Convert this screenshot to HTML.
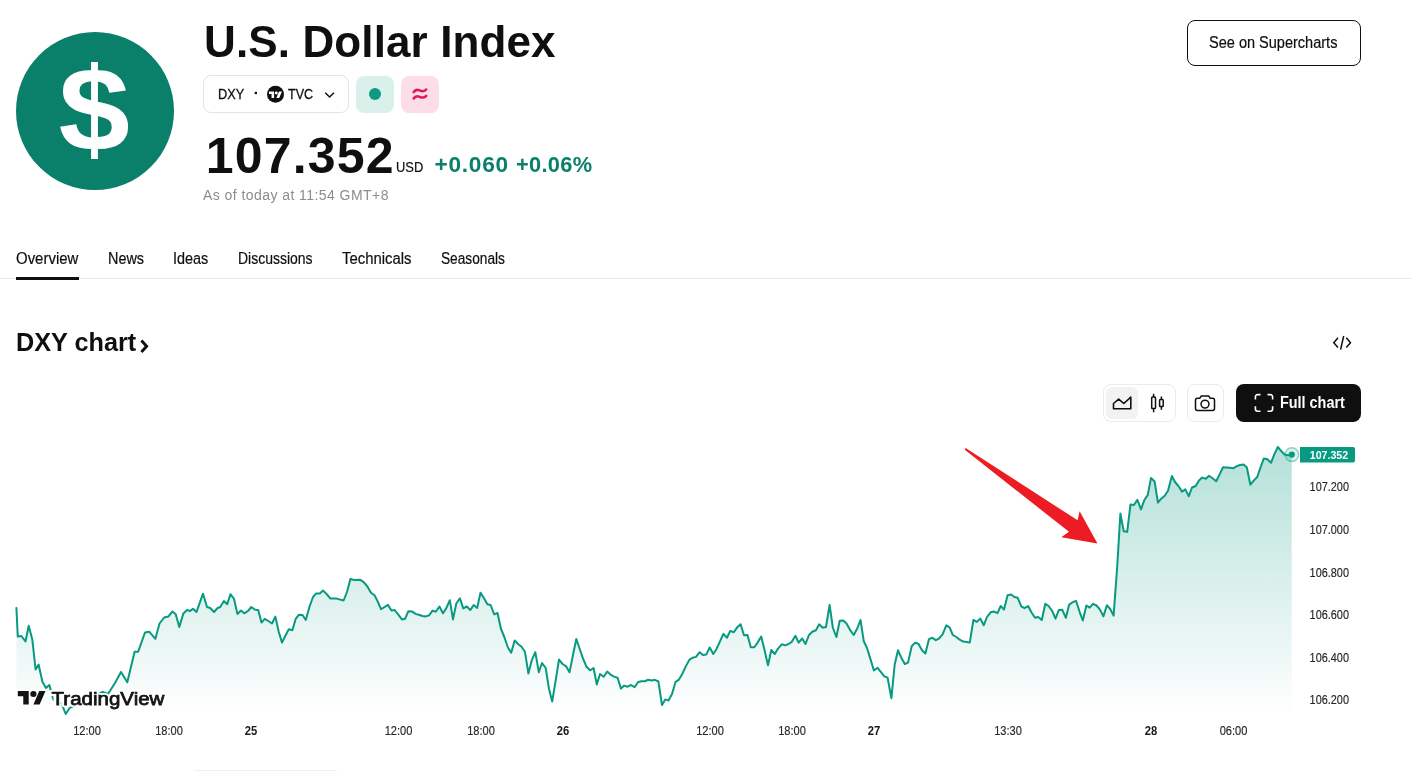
<!DOCTYPE html>
<html lang="en">
<head>
<meta charset="utf-8">
<title>U.S. Dollar Index</title>
<style>
html,body{margin:0;padding:0;background:#fff;}
body{width:1412px;height:771px;position:relative;overflow:hidden;font-family:"Liberation Sans",sans-serif;color:#0f0f0f;}
.abs{position:absolute;white-space:nowrap;line-height:1;}
#logo{left:15.5px;top:31.5px;width:158px;height:158px;border-radius:50%;background:#0a806b;}
#title{left:204px;top:19.8px;font-size:44px;font-weight:700;letter-spacing:0.12px;}
#chip{left:203px;top:75px;width:144px;height:36px;border:1px solid #e4e4e4;border-radius:8px;}
#chip span{position:absolute;font-size:15px;line-height:1;top:9.6px;-webkit-text-stroke:0.3px #0f0f0f;}
#gsq{left:356px;top:76px;width:38px;height:37px;border-radius:8px;background:#daf0eb;}
#gsq i{position:absolute;left:13px;top:12.3px;width:12px;height:12px;border-radius:50%;background:#0f9981;}
#psq{left:401px;top:76px;width:38px;height:37px;border-radius:8px;background:#fddde8;}
#price{left:205.8px;top:130.8px;font-size:50px;font-weight:700;letter-spacing:1.15px;}
#usd{left:395.5px;top:159.7px;-webkit-text-stroke:0.2px #0f0f0f;font-size:14px;transform-origin:0 50%;transform:scaleX(0.92);}
#chg{left:434.5px;top:153.3px;font-size:22.7px;font-weight:700;color:#0a806b;letter-spacing:0.73px;}
#chg2{left:516.3px;top:153.3px;font-size:22.7px;font-weight:700;color:#0a806b;letter-spacing:0.33px;transform-origin:0 50%;transform:scaleX(0.96);}
#asof{left:203px;top:188px;font-size:14px;color:#8c8c8c;letter-spacing:0.44px;}
#sos{left:1187px;top:20.4px;width:172px;height:44px;border:1px solid #0f0f0f;border-radius:8px;}
#sostxt{left:1209.3px;top:34.7px;-webkit-text-stroke:0.2px #0f0f0f;font-size:16px;transform-origin:0 50%;transform:scaleX(0.908);}
.tab{top:251.3px;font-size:16px;transform-origin:0 50%;-webkit-text-stroke:0.2px #0f0f0f;}
#tabline{left:0;top:278px;width:1412px;height:1px;background:#ebebeb;}
#tabsel{left:16px;top:277px;width:63px;height:3px;background:#0f0f0f;}
#ctitle{left:15.8px;top:329.1px;font-size:26.5px;font-weight:700;transform-origin:0 50%;transform:scaleX(0.953);}
#grp{left:1103px;top:384px;width:71px;height:36px;border:1px solid #ebebeb;border-radius:8px;}
#grpsel{left:1106px;top:387px;width:32px;height:32px;border-radius:6px;background:#f2f2f2;}
#cam{left:1186.6px;top:384px;width:35.3px;height:36px;border:1px solid #ebebeb;border-radius:8px;}
#full{left:1236px;top:384px;width:125px;height:38px;border-radius:8px;background:#0f0f0f;}
#fulltxt{left:1280px;top:394.8px;font-size:16px;font-weight:700;color:#fff;transform-origin:0 50%;transform:scaleX(0.9);}
svg{position:absolute;left:0;top:0;}
.ax{font-family:"Liberation Sans",sans-serif;font-size:12.3px;fill:#262626;stroke:#262626;stroke-width:0.15px;}
.ax.b{font-weight:700;fill:#1a1a1a;stroke:none;}
</style>
</head>
<body>
<div id="logo" class="abs"></div>
<div id="title" class="abs">U.S. Dollar Index</div>
<div id="chip" class="abs"><span style="left:13.5px;transform-origin:0 50%;transform:scaleX(0.85)">DXY</span><span style="left:83.8px;transform-origin:0 50%;transform:scaleX(0.835)">TVC</span></div>
<div id="gsq" class="abs"><i></i></div>
<div id="psq" class="abs"></div>
<div id="price" class="abs">107.352</div>
<div id="usd" class="abs">USD</div>
<div id="chg" class="abs">+0.060</div><div id="chg2" class="abs">+0.06%</div>
<div id="asof" class="abs">As of today at 11:54 GMT+8</div>
<div id="sos" class="abs"></div><div id="sostxt" class="abs">See on Supercharts</div>

<div class="abs tab" style="left:15.6px;transform:scaleX(0.935)">Overview</div>
<div class="abs tab" style="left:107.6px;transform:scaleX(0.9)">News</div>
<div class="abs tab" style="left:173px;transform:scaleX(0.9)">Ideas</div>
<div class="abs tab" style="left:237.6px;transform:scaleX(0.873)">Discussions</div>
<div class="abs tab" style="left:342px;transform:scaleX(0.93)">Technicals</div>
<div class="abs tab" style="left:440.5px;transform:scaleX(0.855)">Seasonals</div>
<div id="tabline" class="abs"></div>
<div id="tabsel" class="abs"></div>

<div id="ctitle" class="abs">DXY chart</div>
<div id="grp" class="abs"></div>
<div id="grpsel" class="abs"></div>
<div id="cam" class="abs"></div>
<div id="full" class="abs"></div>
<div id="fulltxt" class="abs">Full chart</div>
<div class="abs" style="left:192px;top:769.6px;width:147px;height:8px;border-radius:6px;background:#f0f0f0"></div>

<svg width="1412" height="771" viewBox="0 0 1412 771">
<defs>
<linearGradient id="ag" gradientUnits="userSpaceOnUse" x1="0" y1="446" x2="0" y2="716">
<stop offset="0" stop-color="#089981" stop-opacity="0.305"/>
<stop offset="1" stop-color="#089981" stop-opacity="0"/>
</linearGradient>
</defs>
<!-- dollar sign -->
<text x="94.2" y="150.2" text-anchor="middle" font-family="Liberation Sans, sans-serif" font-weight="700" font-size="118.8" fill="#fff" transform="translate(94.2 0) scale(1.08 1) translate(-94.2 0)">$</text>
<!-- TV round logo in chip -->
<rect x="254.7" y="91.8" width="2.3" height="2.3" fill="#0f0f0f"/>
<g transform="translate(275.5 94.35)">
<circle r="8.5" fill="#0f0f0f"/>
<g transform="translate(-6.5 -4.35) scale(0.365)" fill="#fff"><path d="M14 22H7V11H0V4h14v18zM28 22h-8l7.5-18h8L28 22z"/><circle cx="20" cy="8" r="4"/></g>
</g>
<!-- chevron -->
<path d="M325.2,92.8 L329.6,97 L334,92.8" fill="none" stroke="#0f0f0f" stroke-width="1.5"/>
<!-- approx sign -->
<g fill="none" stroke="#d91a55" stroke-width="2.5" stroke-linecap="round">
<path d="M413.7,92.1 C415.2,89.6 417.3,89.4 419.6,90.4 C422.4,91.6 424.6,91.5 426.2,89.5"/>
<path d="M413.7,98.5 C415.2,96 417.3,95.8 419.6,96.8 C422.4,98 424.6,97.9 426.2,95.9"/>
</g>
<!-- chart title chevron -->
<path d="M141.4,340.6 L146.6,346.3 L141.4,352" fill="none" stroke="#0f0f0f" stroke-width="2.9"/>
<!-- embed icon -->
<g fill="none" stroke="#0f0f0f" stroke-width="1.5">
<path d="M1338,337.8 L1333.8,342.7 L1338,347.6"/>
<path d="M1346.3,337.8 L1350.5,342.7 L1346.3,347.6"/>
<path d="M1343.7,336 L1340.6,349.7"/>
</g>
<!-- area icon -->
<path d="M1113.5,408.7 V403.5 L1118.7,399.1 L1123.8,403.5 L1130.8,397.2 V408.7 Z" fill="none" stroke="#0f0f0f" stroke-width="1.6" stroke-linejoin="round"/>
<!-- candle icon -->
<g fill="none" stroke="#0f0f0f" stroke-width="1.5">
<rect x="1151.7" y="397" width="3.8" height="11.6" rx="0.8"/>
<path d="M1153.6,393.8 V397 M1153.6,408.6 V412.2"/>
<rect x="1159.6" y="399.5" width="3.6" height="7" rx="0.8"/>
<path d="M1161.4,396.4 V399.5 M1161.4,406.5 V409.7"/>
</g>
<!-- camera icon -->
<g fill="none" stroke="#0f0f0f" stroke-width="1.5">
<path d="M1197.5,398.3 H1199.8 L1201.3,395.9 H1208.7 L1210.2,398.3 H1212.5 A2,2 0 0 1 1214.5,400.3 V408.5 A2,2 0 0 1 1212.5,410.5 H1197.5 A2,2 0 0 1 1195.5,408.5 V400.3 A2,2 0 0 1 1197.5,398.3 Z"/>
<circle cx="1205" cy="404.1" r="3.95"/>
</g>
<!-- fullscreen icon -->
<g fill="none" stroke="#fff" stroke-width="1.6">
<path d="M1255.4,399.5 V396.8 A2.2,2.2 0 0 1 1257.6,394.6 H1260.5"/>
<path d="M1267.5,394.6 H1270.4 A2.2,2.2 0 0 1 1272.6,396.8 V399.5"/>
<path d="M1272.6,406.3 V409 A2.2,2.2 0 0 1 1270.4,411.2 H1267.5"/>
<path d="M1260.5,411.2 H1257.6 A2.2,2.2 0 0 1 1255.4,409 V406.3"/>
</g>

<!-- chart -->
<path d="M16.4,607.9 L17.8,636.6 L21.3,636.0 L25.5,641.5 L28.7,625.7 L32.3,639.4 L35.6,669.5 L38.6,664.5 L42.4,681.8 L46.0,688.0 L49.3,685.0 L53.4,699.6 L61.6,703.7 L65.7,714.0 L69.8,707.8 L75.3,705.0 L82.0,703.7 L90.3,698.2 L95.8,695.5 L102.6,692.0 L108.0,694.0 L115.0,683.0 L121.0,672.0 L127.3,682.3 L134.6,651.7 L138.2,651.7 L145.0,632.5 L149.2,631.7 L155.4,638.8 L159.5,623.5 L164.2,617.5 L168.3,616.6 L172.4,611.5 L175.7,614.2 L179.3,627.0 L183.4,613.4 L187.0,610.0 L190.2,611.0 L193.0,608.7 L196.5,612.0 L203.0,593.7 L207.0,607.0 L210.2,608.0 L214.0,612.0 L217.6,608.0 L220.3,607.0 L223.9,601.0 L227.2,604.3 L230.4,594.2 L234.0,598.8 L237.4,613.9 L241.0,610.6 L244.2,613.3 L247.8,611.2 L251.3,607.0 L255.2,609.8 L258.2,610.0 L261.5,622.6 L264.8,618.8 L268.3,621.0 L272.0,623.5 L275.4,616.6 L278.7,631.7 L282.0,642.6 L285.6,635.2 L288.8,629.2 L292.4,630.3 L295.7,618.8 L299.0,614.7 L302.5,615.0 L305.8,620.0 L309.4,607.0 L313.0,597.0 L316.2,593.4 L319.8,593.4 L323.0,590.6 L326.6,594.0 L330.4,598.6 L336.7,598.6 L343.6,600.5 L347.0,592.0 L350.4,578.9 L354.0,580.0 L360.0,579.7 L364.0,582.4 L367.4,586.5 L371.0,592.8 L374.5,595.3 L377.8,601.6 L381.0,609.2 L384.6,607.0 L388.0,604.9 L391.5,610.6 L394.7,610.0 L398.3,614.7 L401.9,619.4 L405.0,618.8 L408.4,611.2 L412.0,611.4 L415.5,613.9 L418.8,614.7 L422.4,616.0 L425.7,616.4 L429.2,615.3 L432.5,610.6 L435.8,611.7 L439.4,606.5 L443.0,613.3 L446.2,608.4 L449.8,600.2 L453.0,619.4 L456.3,603.5 L459.9,598.3 L463.3,608.4 L466.8,606.5 L470.4,610.0 L473.7,605.0 L477.2,607.9 L480.5,592.8 L484.0,598.3 L487.4,604.3 L490.6,605.0 L494.2,614.4 L497.5,613.0 L501.0,629.0 L504.3,637.0 L507.9,647.5 L511.2,652.7 L514.7,640.4 L518.3,644.3 L521.6,646.7 L524.9,651.7 L528.4,673.5 L531.7,660.4 L535.3,652.2 L538.8,672.2 L542.0,663.0 L545.7,668.0 L549.0,689.0 L552.2,701.5 L555.8,679.6 L559.0,659.6 L562.6,664.0 L566.2,666.4 L569.5,672.2 L573.0,655.0 L576.3,639.0 L579.9,649.5 L583.2,659.0 L586.4,666.7 L590.0,670.3 L593.6,668.0 L596.8,684.5 L600.0,674.0 L603.7,676.8 L607.2,671.6 L610.5,674.6 L614.0,676.6 L617.6,677.7 L621.0,688.6 L624.2,685.6 L627.5,686.7 L631.0,685.0 L634.6,687.2 L637.9,682.3 L641.2,681.2 L644.7,681.2 L648.3,679.8 L651.6,680.4 L654.9,679.8 L658.4,681.5 L662.0,705.0 L665.3,699.5 L668.5,700.4 L672.0,694.0 L675.6,681.8 L679.0,679.6 L682.2,674.0 L685.8,666.4 L689.3,659.9 L692.7,657.7 L696.0,656.9 L699.6,652.2 L703.0,655.0 L706.4,654.4 L709.7,647.5 L713.3,654.0 L716.5,649.0 L720.0,641.3 L723.4,633.9 L727.0,637.7 L730.2,630.9 L733.8,632.2 L737.0,627.6 L740.6,624.3 L744.0,635.2 L747.5,635.0 L750.8,647.3 L754.3,647.3 L757.6,642.6 L761.2,636.6 L764.4,649.5 L768.0,665.3 L771.3,650.0 L774.8,654.0 L778.0,648.6 L781.7,644.3 L785.2,645.4 L788.5,644.0 L791.8,641.8 L795.4,635.8 L798.6,642.6 L802.2,638.5 L805.5,644.0 L809.0,635.0 L812.3,631.7 L815.9,630.3 L819.2,624.3 L822.7,627.8 L826.0,627.0 L829.6,605.0 L832.9,628.0 L836.4,637.0 L839.7,620.7 L843.3,620.5 L846.5,623.5 L850.0,629.8 L853.7,635.0 L857.0,629.0 L860.5,620.0 L863.8,641.3 L867.0,648.0 L870.6,659.6 L873.9,670.5 L877.5,667.8 L881.0,672.2 L884.3,676.3 L887.6,677.7 L891.4,698.2 L894.7,664.5 L898.0,650.3 L901.3,657.7 L904.8,664.0 L908.0,662.6 L911.7,646.2 L915.2,642.6 L918.5,644.0 L922.0,650.3 L925.4,653.6 L929.0,639.1 L932.3,637.8 L935.9,640.2 L939.2,638.3 L942.7,634.2 L946.3,625.4 L949.6,627.4 L952.8,635.0 L956.4,637.0 L959.7,639.7 L963.2,641.6 L966.5,641.9 L969.8,642.4 L973.4,620.0 L976.9,621.9 L980.2,618.6 L983.8,625.2 L987.0,617.0 L990.6,612.3 L993.9,611.5 L997.5,613.1 L1000.7,606.0 L1004.0,609.6 L1007.6,595.3 L1011.1,594.5 L1014.4,597.0 L1017.7,597.8 L1021.3,606.3 L1024.5,608.2 L1028.1,606.0 L1031.4,612.3 L1035.0,617.8 L1038.2,617.0 L1041.8,620.0 L1045.3,603.8 L1048.6,606.0 L1052.2,611.0 L1055.5,618.6 L1058.8,610.1 L1062.3,609.8 L1065.9,617.8 L1069.2,604.6 L1072.7,602.2 L1076.0,600.8 L1079.6,611.8 L1082.8,620.5 L1086.4,605.5 L1089.7,607.7 L1093.0,603.8 L1096.5,605.5 L1100.0,609.6 L1103.4,616.4 L1106.9,605.2 L1110.2,609.0 L1113.6,615.6 L1117.1,568.2 L1120.4,513.5 L1123.7,531.3 L1127.2,531.8 L1130.5,504.4 L1134.0,505.0 L1137.4,499.8 L1141.0,509.4 L1144.2,500.3 L1147.8,494.9 L1151.0,477.9 L1154.6,481.5 L1157.9,502.5 L1161.5,498.4 L1164.7,495.7 L1168.0,490.8 L1171.9,476.0 L1175.0,482.0 L1178.4,486.0 L1182.0,491.6 L1185.3,489.4 L1188.8,496.2 L1192.0,487.5 L1195.7,486.0 L1199.0,480.6 L1202.2,477.6 L1205.8,478.7 L1209.0,475.7 L1212.6,478.2 L1216.2,481.2 L1219.5,474.6 L1223.0,467.2 L1226.3,467.5 L1229.9,467.8 L1233.2,468.3 L1236.4,466.4 L1240.0,465.0 L1243.6,464.5 L1246.8,467.2 L1250.4,484.7 L1253.7,480.6 L1257.2,477.0 L1260.5,467.5 L1263.8,458.5 L1267.4,459.3 L1271.0,462.8 L1274.2,454.6 L1277.8,447.0 L1281.0,450.8 L1284.6,454.6 L1287.9,455.2 L1291.7,454.6 L1291.7,715 L16.4,715 Z" fill="url(#ag)"/>
<path d="M16.4,607.9 L17.8,636.6 L21.3,636.0 L25.5,641.5 L28.7,625.7 L32.3,639.4 L35.6,669.5 L38.6,664.5 L42.4,681.8 L46.0,688.0 L49.3,685.0 L53.4,699.6 L61.6,703.7 L65.7,714.0 L69.8,707.8 L75.3,705.0 L82.0,703.7 L90.3,698.2 L95.8,695.5 L102.6,692.0 L108.0,694.0 L115.0,683.0 L121.0,672.0 L127.3,682.3 L134.6,651.7 L138.2,651.7 L145.0,632.5 L149.2,631.7 L155.4,638.8 L159.5,623.5 L164.2,617.5 L168.3,616.6 L172.4,611.5 L175.7,614.2 L179.3,627.0 L183.4,613.4 L187.0,610.0 L190.2,611.0 L193.0,608.7 L196.5,612.0 L203.0,593.7 L207.0,607.0 L210.2,608.0 L214.0,612.0 L217.6,608.0 L220.3,607.0 L223.9,601.0 L227.2,604.3 L230.4,594.2 L234.0,598.8 L237.4,613.9 L241.0,610.6 L244.2,613.3 L247.8,611.2 L251.3,607.0 L255.2,609.8 L258.2,610.0 L261.5,622.6 L264.8,618.8 L268.3,621.0 L272.0,623.5 L275.4,616.6 L278.7,631.7 L282.0,642.6 L285.6,635.2 L288.8,629.2 L292.4,630.3 L295.7,618.8 L299.0,614.7 L302.5,615.0 L305.8,620.0 L309.4,607.0 L313.0,597.0 L316.2,593.4 L319.8,593.4 L323.0,590.6 L326.6,594.0 L330.4,598.6 L336.7,598.6 L343.6,600.5 L347.0,592.0 L350.4,578.9 L354.0,580.0 L360.0,579.7 L364.0,582.4 L367.4,586.5 L371.0,592.8 L374.5,595.3 L377.8,601.6 L381.0,609.2 L384.6,607.0 L388.0,604.9 L391.5,610.6 L394.7,610.0 L398.3,614.7 L401.9,619.4 L405.0,618.8 L408.4,611.2 L412.0,611.4 L415.5,613.9 L418.8,614.7 L422.4,616.0 L425.7,616.4 L429.2,615.3 L432.5,610.6 L435.8,611.7 L439.4,606.5 L443.0,613.3 L446.2,608.4 L449.8,600.2 L453.0,619.4 L456.3,603.5 L459.9,598.3 L463.3,608.4 L466.8,606.5 L470.4,610.0 L473.7,605.0 L477.2,607.9 L480.5,592.8 L484.0,598.3 L487.4,604.3 L490.6,605.0 L494.2,614.4 L497.5,613.0 L501.0,629.0 L504.3,637.0 L507.9,647.5 L511.2,652.7 L514.7,640.4 L518.3,644.3 L521.6,646.7 L524.9,651.7 L528.4,673.5 L531.7,660.4 L535.3,652.2 L538.8,672.2 L542.0,663.0 L545.7,668.0 L549.0,689.0 L552.2,701.5 L555.8,679.6 L559.0,659.6 L562.6,664.0 L566.2,666.4 L569.5,672.2 L573.0,655.0 L576.3,639.0 L579.9,649.5 L583.2,659.0 L586.4,666.7 L590.0,670.3 L593.6,668.0 L596.8,684.5 L600.0,674.0 L603.7,676.8 L607.2,671.6 L610.5,674.6 L614.0,676.6 L617.6,677.7 L621.0,688.6 L624.2,685.6 L627.5,686.7 L631.0,685.0 L634.6,687.2 L637.9,682.3 L641.2,681.2 L644.7,681.2 L648.3,679.8 L651.6,680.4 L654.9,679.8 L658.4,681.5 L662.0,705.0 L665.3,699.5 L668.5,700.4 L672.0,694.0 L675.6,681.8 L679.0,679.6 L682.2,674.0 L685.8,666.4 L689.3,659.9 L692.7,657.7 L696.0,656.9 L699.6,652.2 L703.0,655.0 L706.4,654.4 L709.7,647.5 L713.3,654.0 L716.5,649.0 L720.0,641.3 L723.4,633.9 L727.0,637.7 L730.2,630.9 L733.8,632.2 L737.0,627.6 L740.6,624.3 L744.0,635.2 L747.5,635.0 L750.8,647.3 L754.3,647.3 L757.6,642.6 L761.2,636.6 L764.4,649.5 L768.0,665.3 L771.3,650.0 L774.8,654.0 L778.0,648.6 L781.7,644.3 L785.2,645.4 L788.5,644.0 L791.8,641.8 L795.4,635.8 L798.6,642.6 L802.2,638.5 L805.5,644.0 L809.0,635.0 L812.3,631.7 L815.9,630.3 L819.2,624.3 L822.7,627.8 L826.0,627.0 L829.6,605.0 L832.9,628.0 L836.4,637.0 L839.7,620.7 L843.3,620.5 L846.5,623.5 L850.0,629.8 L853.7,635.0 L857.0,629.0 L860.5,620.0 L863.8,641.3 L867.0,648.0 L870.6,659.6 L873.9,670.5 L877.5,667.8 L881.0,672.2 L884.3,676.3 L887.6,677.7 L891.4,698.2 L894.7,664.5 L898.0,650.3 L901.3,657.7 L904.8,664.0 L908.0,662.6 L911.7,646.2 L915.2,642.6 L918.5,644.0 L922.0,650.3 L925.4,653.6 L929.0,639.1 L932.3,637.8 L935.9,640.2 L939.2,638.3 L942.7,634.2 L946.3,625.4 L949.6,627.4 L952.8,635.0 L956.4,637.0 L959.7,639.7 L963.2,641.6 L966.5,641.9 L969.8,642.4 L973.4,620.0 L976.9,621.9 L980.2,618.6 L983.8,625.2 L987.0,617.0 L990.6,612.3 L993.9,611.5 L997.5,613.1 L1000.7,606.0 L1004.0,609.6 L1007.6,595.3 L1011.1,594.5 L1014.4,597.0 L1017.7,597.8 L1021.3,606.3 L1024.5,608.2 L1028.1,606.0 L1031.4,612.3 L1035.0,617.8 L1038.2,617.0 L1041.8,620.0 L1045.3,603.8 L1048.6,606.0 L1052.2,611.0 L1055.5,618.6 L1058.8,610.1 L1062.3,609.8 L1065.9,617.8 L1069.2,604.6 L1072.7,602.2 L1076.0,600.8 L1079.6,611.8 L1082.8,620.5 L1086.4,605.5 L1089.7,607.7 L1093.0,603.8 L1096.5,605.5 L1100.0,609.6 L1103.4,616.4 L1106.9,605.2 L1110.2,609.0 L1113.6,615.6 L1117.1,568.2 L1120.4,513.5 L1123.7,531.3 L1127.2,531.8 L1130.5,504.4 L1134.0,505.0 L1137.4,499.8 L1141.0,509.4 L1144.2,500.3 L1147.8,494.9 L1151.0,477.9 L1154.6,481.5 L1157.9,502.5 L1161.5,498.4 L1164.7,495.7 L1168.0,490.8 L1171.9,476.0 L1175.0,482.0 L1178.4,486.0 L1182.0,491.6 L1185.3,489.4 L1188.8,496.2 L1192.0,487.5 L1195.7,486.0 L1199.0,480.6 L1202.2,477.6 L1205.8,478.7 L1209.0,475.7 L1212.6,478.2 L1216.2,481.2 L1219.5,474.6 L1223.0,467.2 L1226.3,467.5 L1229.9,467.8 L1233.2,468.3 L1236.4,466.4 L1240.0,465.0 L1243.6,464.5 L1246.8,467.2 L1250.4,484.7 L1253.7,480.6 L1257.2,477.0 L1260.5,467.5 L1263.8,458.5 L1267.4,459.3 L1271.0,462.8 L1274.2,454.6 L1277.8,447.0 L1281.0,450.8 L1284.6,454.6 L1287.9,455.2 L1291.7,454.6" fill="none" stroke="#089981" stroke-width="2" stroke-linejoin="round" stroke-linecap="round"/>
<circle cx="1291.8" cy="454.6" r="6.9" fill="#089981" fill-opacity="0.14" stroke="#089981" stroke-opacity="0.42" stroke-width="1.4"/>
<circle cx="1291.8" cy="454.6" r="3.1" fill="#089981"/>
<path d="M1300,447 H1353 A2,2 0 0 1 1355,449 V460.6 A2,2 0 0 1 1353,462.6 H1300 Z" fill="#089981"/>
<text transform="translate(1309.8 459.1) scale(0.9 1)" class="ax" style="fill:#fff;font-weight:700;stroke:none;font-size:11.8px">107.352</text>
<text transform="translate(1309.6 491.1) scale(0.887 1)" class="ax">107.200</text>
<text transform="translate(1309.6 534.1) scale(0.887 1)" class="ax">107.000</text>
<text transform="translate(1309.6 576.5) scale(0.887 1)" class="ax">106.800</text>
<text transform="translate(1309.6 618.9) scale(0.887 1)" class="ax">106.600</text>
<text transform="translate(1309.6 661.6) scale(0.887 1)" class="ax">106.400</text>
<text transform="translate(1309.6 704.2) scale(0.887 1)" class="ax">106.200</text>
<text transform="translate(87 735) scale(0.9 1)" text-anchor="middle" class="ax">12:00</text>
<text transform="translate(169 735) scale(0.9 1)" text-anchor="middle" class="ax">18:00</text>
<text transform="translate(251 735) scale(0.915 1)" text-anchor="middle" class="ax b">25</text>
<text transform="translate(398.5 735) scale(0.9 1)" text-anchor="middle" class="ax">12:00</text>
<text transform="translate(481 735) scale(0.9 1)" text-anchor="middle" class="ax">18:00</text>
<text transform="translate(563 735) scale(0.915 1)" text-anchor="middle" class="ax b">26</text>
<text transform="translate(710 735) scale(0.9 1)" text-anchor="middle" class="ax">12:00</text>
<text transform="translate(792 735) scale(0.9 1)" text-anchor="middle" class="ax">18:00</text>
<text transform="translate(874 735) scale(0.915 1)" text-anchor="middle" class="ax b">27</text>
<text transform="translate(1008 735) scale(0.9 1)" text-anchor="middle" class="ax">13:30</text>
<text transform="translate(1151 735) scale(0.915 1)" text-anchor="middle" class="ax b">28</text>
<text transform="translate(1233.5 735) scale(0.9 1)" text-anchor="middle" class="ax">06:00</text>
<!-- red arrow -->
<polygon points="965.6,447.9 1077.6,520.3 1079.6,511.3 1097.5,543.5 1061.3,537.3 1069,531.8 964.8,449.8" fill="#ed1c24"/>
<!-- TradingView watermark -->
<g stroke="#fff" stroke-width="4" stroke-linejoin="round" fill="#fff">
<g transform="translate(17.8 687.9) scale(0.78 0.755)"><path d="M14 22H7V11H0V4h14v18zM28 22h-8l7.5-18h8L28 22z"/><circle cx="20" cy="8" r="4"/></g>
<text x="51.3" y="704.5" font-family="Liberation Sans, sans-serif" font-size="18.4" font-weight="700" textLength="113.4" lengthAdjust="spacingAndGlyphs">TradingView</text>
</g>
<g fill="#131313">
<g transform="translate(17.8 687.9) scale(0.78 0.755)"><path d="M14 22H7V11H0V4h14v18zM28 22h-8l7.5-18h8L28 22z"/><circle cx="20" cy="8" r="4"/></g>
<text x="51.6" y="704.5" font-family="Liberation Sans, sans-serif" font-size="18.4" font-weight="400" stroke="#131313" stroke-width="0.75" textLength="112.8" lengthAdjust="spacingAndGlyphs">TradingView</text>
</g>
</svg>
</body>
</html>
